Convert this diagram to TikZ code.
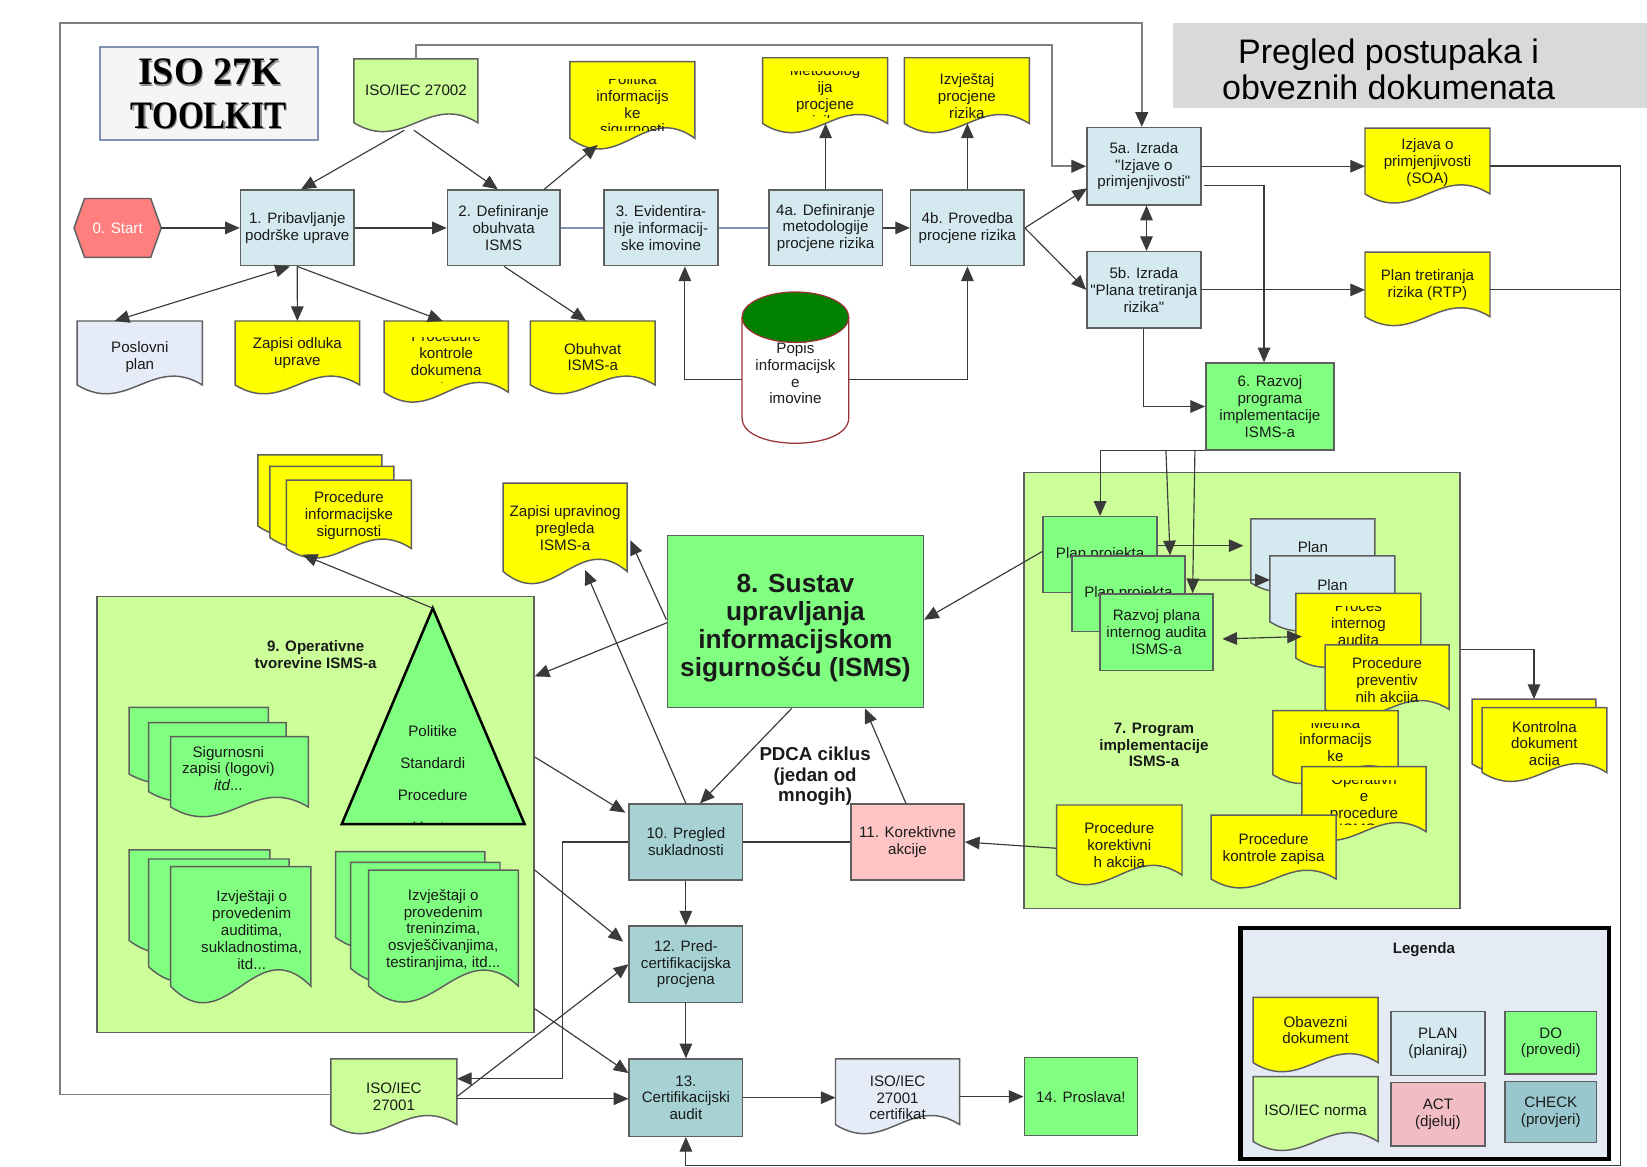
\documentclass[tikz,border=0pt]{standalone}
\usepackage{fontspec}
\usepackage{graphicx}
\setmainfont{Liberation Sans}[Ligatures=TeXOff]
\newfontfamily\titlefont{Liberation Serif}
\usetikzlibrary{arrows.meta,calc}

\definecolor{planc}{HTML}{D5EAF0}
\definecolor{dogr}{HTML}{80FF80}
\definecolor{chk}{HTML}{A6D2D4}
\definecolor{act}{HTML}{FFC4C4}
\definecolor{yel}{HTML}{FFFF00}
\definecolor{isoc}{HTML}{CCFF99}
\definecolor{lav}{HTML}{E6ECF7}
\definecolor{startc}{HTML}{FF7F7F}
\definecolor{bordc}{HTML}{5F5F5F}
\definecolor{connc}{HTML}{3A3A3A}
\definecolor{bluelc}{HTML}{7F93B0}
\definecolor{framec}{HTML}{7F7F7F}
\definecolor{txtc}{HTML}{1A1A1A}
\definecolor{legc}{HTML}{E4EBF5}
\definecolor{chkl}{HTML}{99C7CD}
\definecolor{actl}{HTML}{F2BCC4}
\definecolor{titc}{HTML}{D9D9D9}
\definecolor{isobox}{HTML}{F5F5F5}
\definecolor{cylc}{HTML}{993333}
\definecolor{dkgreen}{HTML}{008000}

\newcommand\bxfont{\fontsize{7.2}{8}\selectfont}

% document shape: name, x0, y0, w, h, fill
\newcommand\docshape[6]{%
  \path[docsty,fill=#6] (#2,#3) -- ++(#4,0) -- ++(0,{0.87*#5})
     .. controls +({-0.4*#4},{-0.415*#5}) and +({0.4*#4},{0.415*#5}) .. (#2,{#3+0.87*#5}) -- cycle;
  \node[anc, minimum width={#4*0.5pt}, minimum height={#5*0.5pt}] (#1) at ({#2+#4/2},{#3+#5/2}) {};}
% plain text
\newcommand\dtxt[3]{\node[txt] at (#1,#2) {#3};}
% clipped text: x1,y1,x2,y2,cx,cy,text
\newcommand\ctxt[7]{\begin{scope}\clip (#1,#2) rectangle (#3,#4); \node[txt] at (#5,#6) {#7};\end{scope}}
% box: name, cx, cy, w, h, fill, text
\newcommand\bx[7]{\node[boxsty, fill=#6, minimum width={#4*0.5pt}, minimum height={#5*0.5pt}] (#1) at (#2,#3) {#7};}

\begin{document}
\begin{tikzpicture}[x=0.5pt,y=-0.5pt,
  >={Triangle[length=7pt,width=6pt]},
  boxsty/.style={rectangle, draw=bordc, line width=0.7pt, inner sep=1pt, font=\bxfont, align=center, text=txtc},
  anc/.style={rectangle, draw=none, inner sep=0pt, outer sep=0pt},
  docsty/.style={draw=bordc, line width=0.7pt},
  txt/.style={font=\bxfont, align=center, inner sep=0pt, text=txtc},
  conn/.style={draw=connc, line width=0.55pt, ->},
  dconn/.style={draw=connc, line width=0.55pt, <->},
  plainc/.style={draw=connc, line width=0.55pt},
  bluel/.style={draw=bluelc, line width=0.8pt},
  framel/.style={draw=framec, line width=0.9pt, -{Triangle[length=7pt,width=6pt,color=connc]}},
  contsty/.style={rectangle, draw=bordc, line width=0.7pt, fill=isoc, inner sep=0pt},
  btitle/.style={font=\bxfont\bfseries, align=center, inner sep=0pt, text=txtc}
]
\useasboundingbox (0,0) rectangle (1568,1111);
\fill[white] (0,0) rectangle (1568,1111);

% ---- containers ----
\node[contsty, minimum width={416*0.5pt}, minimum height={415*0.5pt}] (c9) at (300.4,775.5) {};
\node[contsty, minimum width={415*0.5pt}, minimum height={414.7*0.5pt}] (c7) at (1182.5,657.35) {};
\node[btitle] at (300.5,623) {9. Operativne\\tvorevine ISMS-a};
\node[btitle] at (1098.6,709.3) {7. Program\\implementacije\\ISMS-a};

% ---- titles ----
\node[rectangle, draw=bluelc, line width=0.8pt, fill=isobox, minimum width={208*0.5pt}, minimum height={88*0.5pt}] (ttl) at (199,89) {};
\node[font=\titlefont\bfseries\fontsize{18.5}{20}\selectfont, inner sep=0pt, text=black!45] at (200.5,70.2) {\scalebox{0.98}[1]{ISO 27K}};
\node[font=\titlefont\bfseries\fontsize{18.5}{20}\selectfont, inner sep=0pt] at (199.5,68.7) {\scalebox{0.98}[1]{ISO 27K}};
\node[font=\titlefont\bfseries\fontsize{18.5}{20}\selectfont, inner sep=0pt, text=black!45] at (200.1,111.7) {\scalebox{0.85}[1]{TOOLKIT}};
\node[font=\titlefont\bfseries\fontsize{18.5}{20}\selectfont, inner sep=0pt] at (198.6,110.2) {\scalebox{0.85}[1]{TOOLKIT}};

\fill[titc] (1117,22) rectangle (1568,103);
\node[font=\fontsize{16.2}{17.5}\selectfont, align=center, inner sep=0pt] (ptitle) at (1322,66) {Pregled postupaka i\\obveznih dokumenata};

% ---- start ----
\path[fill=startc, draw=bordc, line width=0.7pt] (70.5,217) -- (80.5,189) -- (143.5,189) -- (153.5,217) -- (143.5,245) -- (80.5,245) -- cycle;
\node[anc, minimum width={83*0.5pt}, minimum height={56*0.5pt}, font=\bxfont, text=white] (start) at (112,217) {0. Start};

% ---- top row boxes ----
\bx{n1}{283}{217}{108}{72}{planc}{1. Pribavljanje\\podrške uprave}
\bx{n2}{479.5}{217}{107}{72}{planc}{2. Definiranje\\obuhvata\\ISMS}
\bx{n3}{629.3}{217}{108.6}{72}{planc}{3. Evidentira-\\nje informacij-\\ske imovine}
\bx{n4a}{786}{217}{108}{72}{planc}{4a. Definiranje\\metodologije\\procjene rizika}
\bx{n4b}{921}{217}{108}{72}{planc}{4b. Provedba\\procjene rizika}
\bx{n5a}{1089}{158.3}{108.5}{73.5}{planc}{5a. Izrada\\"Izjave o\\primjenjivosti"}
\bx{n5b}{1089}{276}{108.5}{72.7}{planc}{5b. Izrada\\"Plana tretiranja\\rizika"}
\bx{n6}{1209}{387}{122}{82.7}{dogr}{6. Razvoj\\programa\\implementacije\\ISMS-a}

% ---- top documents ----
\docshape{d27002}{337}{56}{118}{70}{isoc}
\dtxt{396}{85.7}{ISO/IEC 27002}
\docshape{dPol}{542.6}{58.7}{119}{84}{yel}
\ctxt{542.6}{76}{661.6}{124}{602.1}{100.7}{Politika\\informacijs\\ke\\sigurnosti}
\docshape{dMet}{726}{55}{119}{72}{yel}
\ctxt{726}{68.5}{845}{111.5}{785.5}{91}{Metodolog\\ija\\procjene\\rizika}
\docshape{dIzv}{861}{55}{119}{72}{yel}
\dtxt{920.5}{91.7}{Izvještaj\\procjene\\rizika}
\docshape{dSOA}{1299.5}{122}{119}{72}{yel}
\dtxt{1359}{155}{Izjava o\\primjenjivosti\\(SOA)}
\docshape{dRTP}{1299.5}{240}{119}{70.7}{yel}
\dtxt{1359}{271.6}{Plan tretiranja\\rizika (RTP)}

\docshape{dPos}{73.5}{305.6}{119.2}{70}{lav}
\dtxt{133.1}{340}{Poslovni\\plan}
\docshape{dZap}{223.8}{305.6}{118.6}{70}{yel}
\dtxt{283.1}{336.5}{Zapisi odluka\\uprave}
\docshape{dPkd}{365.6}{305.6}{118.4}{78}{yel}
\ctxt{365.6}{321}{484}{364}{424.8}{344.3}{Procedure\\kontrole\\dokumena\\ta}
\docshape{dObu}{505}{305.6}{118.6}{70}{yel}
\dtxt{564.3}{340}{Obuhvat\\ISMS-a}

% ---- cylinder ----
\path[fill=white, draw=cylc, line width=0.6pt] (706.5,302) -- (706.5,398) .. controls (706.5,430) and (808,430) .. (808,398) -- (808,302);
\dtxt{757.25}{355.3}{Popis\\informacijsk\\e\\imovine}
\path[fill=dkgreen, draw=cylc, line width=0.6pt] (757.25,302) ellipse [x radius=50.75, y radius=24];
\node[anc, minimum width={101.5*0.5pt}, minimum height={146*0.5pt}] (cyl) at (757.25,349) {};

% ---- middle documents ----
\docshape{dPisA}{245.6}{433}{118}{78}{yel}
\docshape{dPisB}{257}{444}{118}{78}{yel}
\docshape{dPis}{272.7}{457}{119}{75}{yel}
\dtxt{332.2}{491}{Procedure\\informacijske\\sigurnosti}
\docshape{dZup}{479}{460}{118}{96.6}{yel}
\dtxt{538}{503}{Zapisi upravinog\\pregleda\\ISMS-a}

% ---- 8 ----
\node[rectangle, draw=bordc, line width=0.7pt, fill=dogr, minimum width={243.4*0.5pt}, minimum height={163.7*0.5pt}] (n8) at (757.3,591.9) {};
\node[font=\bfseries\fontsize{12.5}{13.3}\selectfont, align=center, inner sep=0pt, text=txtc] at (757.3,598) {8. Sustav\\upravljanja\\informacijskom\\sigurnošću (ISMS)};
\node[font=\bfseries\fontsize{8.9}{9.8}\selectfont, align=center, inner sep=0pt, text=txtc] (pdca) at (776,739) {PDCA ciklus\\(jedan od\\mnogih)};

% ---- 9 contents ----
\path[fill=dogr] (412,579) -- (499.4,784.5) -- (325.4,784.5) -- cycle;
\begin{scope}
  \clip (325,600) rectangle (500,784.5);
  \node[font=\fontsize{7.2}{15.25}\selectfont, align=center, inner sep=0pt, text=txtc] at (412,743) {Politike\\Standardi\\Procedure\\Upute};
\end{scope}
\path[draw=black, line width=1.2pt] (412,579) -- (499.4,784.5) -- (325.4,784.5) -- cycle;
\coordinate (tri) at (412,579);

\docshape{dSigA}{123}{673.4}{132.5}{73}{dogr}
\docshape{dSigB}{141.5}{688}{130.8}{75.5}{dogr}
\docshape{dSig}{162.5}{701.3}{131}{77}{dogr}
\dtxt{217.4}{731.6}{Sigurnosni\\zapisi (logovi)\\\textit{itd}...}

\docshape{dAudA}{123}{809.2}{134}{99}{dogr}
\docshape{dAudB}{141.5}{817.8}{133.8}{118}{dogr}
\docshape{dAud}{162.5}{825}{133.5}{131}{dogr}
\dtxt{239.6}{885.4}{Izvještaji o\\provedenim\\auditima,\\sukladnostima,\\itd...}

\docshape{dTreA}{319.6}{810.8}{142.1}{94}{dogr}
\docshape{dTreB}{333.8}{821}{142.2}{116}{dogr}
\docshape{dTre}{351}{828.3}{142.5}{127}{dogr}
\dtxt{422}{885.4}{Izvještaji o\\provedenim\\treninzima,\\osvješčivanjima,\\testiranjima, itd...}

% ---- 7 contents ----
\bx{PP1}{1047.3}{528}{108.5}{72.3}{dogr}{Plan projekta}
\bx{PP2}{1074.3}{565.4}{107.4}{72}{dogr}{Plan projekta}
\bx{RP}{1101}{602}{108}{73}{dogr}{Razvoj plana\\internog audita\\ISMS-a}

\docshape{dPlan1}{1190.8}{494}{118.2}{70}{planc}
\dtxt{1249.9}{521}{Plan}
\docshape{dPlan2}{1209}{529.3}{119}{72}{planc}
\dtxt{1268.5}{557}{Plan}
\docshape{dProc}{1233.8}{564.9}{119}{71}{yel}
\ctxt{1233.8}{577.6}{1352.8}{620}{1293.3}{593.4}{Proces\\internog\\audita}
\docshape{dPrev}{1261.5}{614}{118}{70.5}{yel}
\ctxt{1261.5}{620}{1379.5}{669}{1320.5}{649}{Procedure\\preventiv\\nih akcija}
\docshape{dMetr}{1211.7}{676.6}{119.3}{70}{yel}
\ctxt{1211.7}{688.6}{1331}{729}{1271.4}{704}{Metrika\\informacijs\\ke}
\docshape{dOpr}{1239.5}{729.9}{118.1}{71}{yel}
\ctxt{1239.5}{743}{1357.6}{785.3}{1298.6}{765.7}{Operativn\\e\\procedure\\ISMS-a}
\docshape{dPkz}{1153}{776}{119}{70}{yel}
\dtxt{1212.5}{808}{Procedure\\kontrole zapisa}
\docshape{dPko}{1006}{766.4}{119.3}{76.6}{yel}
\ctxt{1006}{775}{1125.3}{826}{1065.6}{806}{Procedure\\korektivni\\h akcija}

\docshape{dKonB}{1401.4}{665.5}{118}{71}{yel}
\docshape{dKon}{1411}{673.7}{118.7}{71}{yel}
\ctxt{1411}{680}{1529.7}{729}{1470.3}{709.3}{Kontrolna\\dokument\\acija}

% ---- bottom boxes ----
\bx{n10}{653}{801.6}{108}{72}{chk}{10. Pregled\\sukladnosti}
\bx{n11}{864}{801.6}{107.7}{72}{act}{11. Korektivne\\akcije}
\bx{n12}{653}{918}{108}{72.4}{chk}{12. Pred-\\certifikacijska\\procjena}
\bx{n13}{653}{1045}{108}{73.5}{chk}{13.\\Certifikacijski\\audit}
\bx{n14}{1029}{1044}{107.8}{74.5}{dogr}{14. Proslava!}

\docshape{d27001}{315}{1008}{120}{72}{isoc}
\dtxt{375}{1044}{ISO/IEC\\27001}
\docshape{dCert}{795.4}{1008}{118.2}{72}{lav}
\dtxt{854.5}{1045}{ISO/IEC\\27001\\certifikat}

% ---- legend ----
\node[rectangle, draw=black, line width=2pt, fill=legc, minimum width={351*0.5pt}, minimum height={219.9*0.5pt}] (leg) at (1356.5,993.75) {};
\node[btitle] at (1355.6,903.8) {Legenda};
\docshape{dObv}{1193}{949.5}{119}{71.5}{yel}
\dtxt{1252.5}{980.6}{Obavezni\\dokument}
\docshape{dNorm}{1193}{1025}{119}{71}{isoc}
\dtxt{1252.5}{1056.8}{ISO/IEC norma}
\bx{lplan}{1368.9}{993.5}{89.7}{61}{planc}{PLAN\\(planiraj)}
\bx{ldo}{1476.4}{992.8}{87.2}{59.5}{dogr}{DO\\(provedi)}
\bx{lact}{1368.9}{1060.9}{89.7}{60.3}{actl}{ACT\\(djeluj)}
\bx{lchk}{1476.4}{1058.8}{87.2}{58}{chkl}{CHECK\\(provjeri)}

% ================= connectors =================
\draw[framel] ($(d27001.west)+(0,-2)$) -- ++(-258,0) |- ($(n5a.north)+(-2,-98.6)$) -- ($(n5a.north)+(-2,0)$);
\draw[framel] (d27002.north) -- ++(0,-13.1) -| ($(n5a.west)+(-32.35,0)$) -- (n5a.west);

\draw[conn] (start.east) -- (n1.west);
\draw[conn] (n1.east) -- (n2.west);
\draw[bluel] (n2.east) -- (n3.west);
\draw[bluel] (n3.east) -- (n4a.west);
\draw[conn] (n4a.east) -- (n4b.west);
\draw[conn] ($(d27002.south)+(-11,-2)$) -- ($(n1.north)+(3.6,0)$);
\draw[conn] ($(d27002.south)+(-2,-2)$) -- ($(n2.north)+(-5.5,0)$);
\draw[conn] ($(n2.north)+(38.5,0)$) -- ($(dPol.south west)+(26.4,-4.7)$);
\draw[dconn] ($(n1.south)+(-7,0)$) -- ($(dPos.north)+(-24,0)$);
\draw[conn] (n1.south) -- (dZap.north);
\draw[conn] (n1.south) -- ($(dPkd.north)+(-3.3,0)$);
\draw[conn] ($(n2.south)+(0.5,0)$) -- ($(dObu.north)+(-6.3,0)$);
\draw[conn] (n4a.north) -- ($(dMet.south)+(0.5,-9.4)$);
\draw[conn] (n4b.north) -- ($(dIzv.south)+(0.5,-9.4)$);
\draw[conn] ($(cyl.west)+(0,12)$) -| ($(n3.south)+(22.7,0)$);
\draw[conn] ($(cyl.east)+(0,12)$) -| (n4b.south);
\draw[conn] (n4b.east) -- ($(n5a.west)+(1,21)$);
\draw[conn] (n4b.east) -- (n5b.west);
\draw[conn] (n5a.east) -- (n5a.east -| dSOA.west);
\draw[conn] (n5b.east) -- (n5b.east -| dRTP.west);
\draw[dconn] ($(n5a.south)+(2.5,0)$) -- ($(n5b.north)+(2.5,0)$);
\draw[conn] ($(n5a.east)+(2.5,18.5)$) -| ($(n6.north)+(-5.6,0)$);
\draw[conn] (n5b.south) |- (n6.west);
\draw[conn] (dSOA.east) -| ($(n13.south)+(889.8,27.25)$) -| (n13.south);
\draw[plainc] (dRTP.east) -- ++(124.3,0);

\draw[conn] (n6.south west) -| (PP1.north);
\draw[conn] ($(n6.south west)+(-37.3,0)$) -- ($(PP2.north)+(39.6,0)$);
\draw[conn] ($(n6.south west)+(-9.7,0)$) -- ($(RP.north)+(34.4,0)$);
\draw[conn] ($(PP1.east)+(0,-8.5)$) -- ($(dPlan1.west)+(-7,-9.5)$);
\draw[conn] ($(PP2.east)+(2,-13.2)$) -- ($(dPlan2.west)+(0,-13.1)$);
\draw[dconn] ($(RP.east)+(8,6.3)$) -- ($(dProc.west)+(5.7,5.6)$);
\draw[conn] ($(c7.east)+(0,-39.35)$) -| (dKonB.north);

\draw[conn] ($(PP1.west)+(0,-3)$) -- ($(n8.east)+(0,-1.9)$);
\draw[conn] ($(n8.west)+(0,1)$) -- ($(c9.east)+(0,-131.5)$);
\draw[conn] ($(n8.west)+(-0.5,-2)$) -- ($(dZup.east)+(3,6)$);
\draw[conn] (n10.north) -- ($(dZup.south)+(19,-14)$);
\draw[conn] ($(n8.south)+(-3.6,0)$) -- ($(n10.north)+(13.4,0)$);
\draw[conn] ($(n11.north)+(-1.5,0)$) -- ($(n8.south)+(66.2,0)$);
\draw[conn] ($(dPko.west)+(0,2.9)$) -- (n11.east);
\draw[plainc] (n10.east) -- (n11.west);
\draw[conn] (n10.west) -- ++(-62.7,0) |- ($(d27001.east)+(0,-17)$);
\draw[conn] (n10.south) -- (n12.north);
\draw[conn] (n12.south) -- (n13.north);
\draw[conn] (d27001.east) -- (n12.west);
\draw[conn] ($(d27001.east)+(0,2)$) -- ($(n13.west)+(0,1)$);
\draw[conn] ($(c9.east)+(0,-54.8)$) -- ($(n10.west)+(-3,-27.9)$);
\draw[conn] ($(c9.east)+(0,52.8)$) -- ($(n12.west)+(-5,-21.5)$);
\draw[conn] ($(c9.south east)+(0,-23.3)$) -- ($(n13.west)+(0,-23.4)$);
\draw[conn] (n13.east) -- (n13.east -| dCert.west);
\draw[conn] (dCert.east) -- (n14.west);
\draw[conn] (tri) -- ($(dPis.south)+(-44.2,-4)$);
\end{tikzpicture}
\end{document}
